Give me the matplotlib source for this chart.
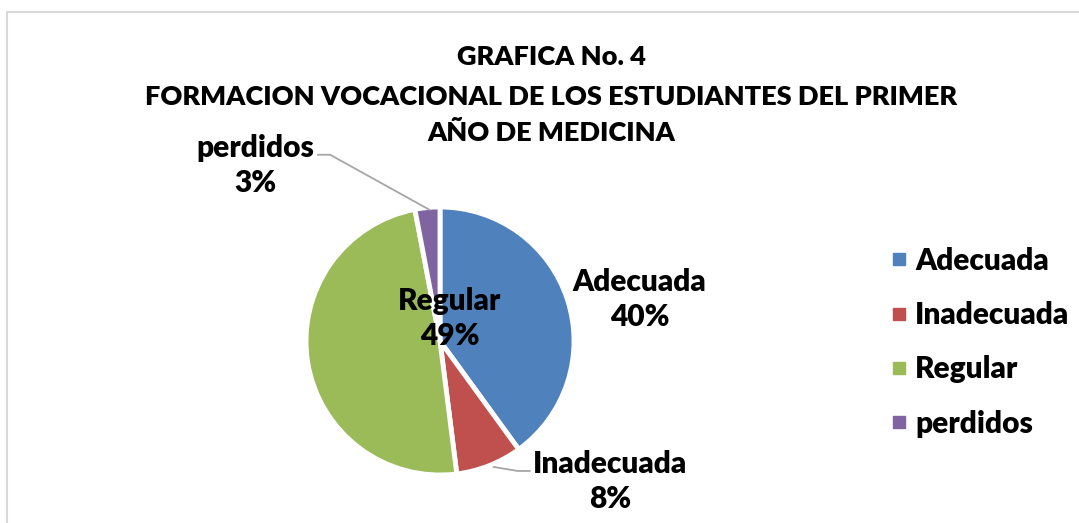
import matplotlib.pyplot as plt
from matplotlib.lines import Line2D

plt.rcParams['font.family'] = ['Lato', 'DejaVu Sans']
plt.rcParams['font.weight'] = 'heavy'

categorias = ['Adecuada', 'Inadecuada', 'Regular', 'perdidos']
porcentajes = [40, 8, 49, 3]
colores = ['#4F81BD', '#C0504D', '#9BBB59', '#8064A2']
titulo = ['GRAFICA No. 4',
          'FORMACION VOCACIONAL DE LOS ESTUDIANTES DEL PRIMER',
          'AÑO DE MEDICINA']

W, H = 1079, 523
fig = plt.figure(figsize=(W / 100, H / 100), dpi=100)

# marco gris del grafico
fig.patches.append(plt.Rectangle((7 / W, -0.1), 1.2, (H - 12) / H + 0.1,
                                 transform=fig.transFigure, fill=False,
                                 edgecolor='#D9D9D9', linewidth=1.5))

# titulo
for linea, base in zip(titulo, [65, 105, 141]):
    fig.text(551 / W, 1 - base / H, linea, ha='center', va='baseline',
             fontsize=19.5, fontweight='heavy')

# pastel: centro (440, 341) px, radio 134 px
r = 134
ax = fig.add_axes([(440 - r) / W, (H - 341 - r) / H, 2 * r / W, 2 * r / H])
wedges, _ = ax.pie(porcentajes, colors=colores, startangle=90, counterclock=False,
                   radius=1.0, wedgeprops=dict(edgecolor='white', linewidth=3.5))
ax.set_xlim(-1, 1)
ax.set_ylim(-1, 1)
ax.set_aspect('equal')
ax.axis('off')

# etiquetas
pos_etiquetas = [(1.49, 0.31), (1.27, -1.05), (0.07, 0.17), (-1.38, 1.31)]
for cat, pct, (x, y) in zip(categorias, porcentajes, pos_etiquetas):
    ax.text(x, y, f'{cat}\n{pct}%', ha='center', va='center', fontsize=21.5,
            fontweight='heavy', linespacing=1.3, clip_on=False)

# lineas guia
ax.plot([-0.91, -0.82, -0.08], [1.39, 1.39, 0.98], color='#A6A6A6', lw=1.3, clip_on=False)
ax.plot([0.40, 0.58, 0.67], [-0.94, -0.97, -0.97], color='#A6A6A6', lw=1.3, clip_on=False)

# leyenda
handles = [Line2D([], [], marker='s', linestyle='none', markersize=8,
                  markerfacecolor=c, markeredgecolor=c) for c in colores]
fig.legend(handles, categorias, loc='upper left', bbox_to_anchor=(863 / W, 1 - 220 / H),
           frameon=False, handlelength=0.6, handletextpad=0.25,
           labelspacing=0.88, prop={'weight': 'heavy', 'size': 21.5})

fig.savefig('out.png', dpi=100)
